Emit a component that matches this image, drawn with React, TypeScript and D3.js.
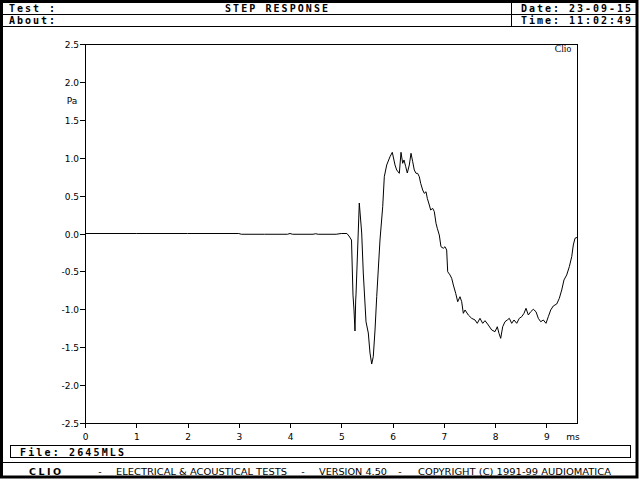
import React from "react";
import * as d3 from "d3";

const timeMs: number[] = [
  0, 1, 2, 3, 3.05, 3.5, 3.95, 4.0, 4.05, 4.45, 4.5, 4.55, 4.9, 5.0, 5.11, 5.151, 5.2, 5.229, 5.249, 5.268,
  5.282, 5.288, 5.352, 5.399, 5.43, 5.483, 5.528, 5.561, 5.594, 5.625, 5.659, 5.692, 5.756, 5.809, 5.84,
  5.887, 5.951, 5.996, 6.049, 6.082, 6.133, 6.166, 6.199, 6.224, 6.258, 6.289, 6.328, 6.361, 6.394, 6.425,
  6.459, 6.49, 6.523, 6.55, 6.589, 6.62, 6.654, 6.679, 6.718, 6.745, 6.784, 6.816, 6.849, 6.874, 6.913,
  6.946, 6.991, 7.024, 7.057, 7.077, 7.122, 7.155, 7.187, 7.233, 7.272, 7.317, 7.35, 7.382, 7.415, 7.479,
  7.545, 7.61, 7.654, 7.707, 7.76, 7.805, 7.869, 7.936, 8.0, 8.045, 8.078, 8.111, 8.15, 8.195, 8.24, 8.279,
  8.326, 8.371, 8.424, 8.474, 8.521, 8.566, 8.605, 8.65, 8.697, 8.747, 8.8, 8.845, 8.892, 8.943, 8.995,
  9.04, 9.087, 9.138, 9.204, 9.255, 9.302, 9.346, 9.399, 9.45, 9.497, 9.528, 9.561, 9.606,
];

const pressurePa: number[] = [
  0, 0, 0, 0, -0.01, -0.01, -0.01, 0.0, -0.01, -0.01, -0.003, -0.01, -0.01, 0.0, 0.0, -0.033, -0.086, -0.812,
  -1.01, -1.286, -0.877, -0.81, 0.402, 0.007, -0.521, -1.164, -1.313, -1.577, -1.722, -1.625, -1.273,
  -0.834, -0.086, 0.354, 0.749, 0.904, 1.013, 1.071, 0.904, 0.838, 0.794, 1.071, 0.926, 0.97, 0.881,
  0.798, 0.904, 1.058, 0.947, 0.838, 0.794, 0.794, 0.749, 0.662, 0.574, 0.53, 0.551, 0.464, 0.376, 0.31,
  0.332, 0.288, 0.135, 0.069, -0.02, -0.174, -0.195, -0.174, -0.218, -0.504, -0.547, -0.591, -0.679,
  -0.789, -0.9, -0.834, -0.9, -1.053, -1.009, -1.075, -1.119, -1.141, -1.185, -1.119, -1.185, -1.15,
  -1.207, -1.273, -1.295, -1.23, -1.317, -1.383, -1.23, -1.164, -1.141, -1.119, -1.185, -1.141, -1.185,
  -1.119, -1.098, -1.053, -0.987, -1.075, -1.032, -1.0, -1.032, -1.119, -1.164, -1.141, -1.185, -1.098,
  -1.009, -0.956, -0.93, -0.855, -0.745, -0.613, -0.547, -0.438, -0.306, -0.152, -0.063, -0.05,
];

const xTicks: number[] = [0, 1, 2, 3, 4, 5, 6, 7, 8, 9];
const yTicks: number[] = [-2.5, -2.0, -1.5, -1.0, -0.5, 0.0, 0.5, 1.0, 1.5, 2.0, 2.5];

const title = "STEP RESPONSE";
const testLabel = "Test :";
const aboutLabel = "About:";
const dateLabel = "Date: 23-09-15";
const timeLabel = "Time: 11:02:49";
const fileLabel = "File: 2645MLS";
const yUnit = "Pa";
const xUnit = "ms";
const brand = "Clio";

const mono = "'DejaVu Sans Mono', 'Liberation Mono', monospace";
const sans = "'DejaVu Sans', sans-serif";

export default function App() {
  const W = 640;
  const H = 480;
  const x = d3.scaleLinear().domain([0, 9.6]).range([85, 577]);
  const y = d3.scaleLinear().domain([-2.5, 2.5]).range([423, 44]);
  const pts = timeMs.map((t, i) => [t, pressurePa[i]] as [number, number]);
  const line = d3
    .line<[number, number]>()
    .x((d) => x(d[0]))
    .y((d) => y(d[1]));

  const hdr = { fontFamily: mono, fontWeight: 700, fontSize: 10 } as const;
  const foot = { fontFamily: sans, fontSize: 9.5 } as const;

  return (
    <svg
      width={W}
      height={H}
      style={{ position: "fixed", left: 0, top: 0, display: "block", background: "#fff" }}
    >
      <rect x={0} y={0} width={W} height={H} fill="#fff" />
      <rect x={1.5} y={1.5} width={635.5} height={475.5} fill="none" stroke="#000" strokeWidth={3} />
      <g stroke="#000" strokeWidth={1} shapeRendering="crispEdges">
        <line x1={3} x2={637} y1={14.5} y2={14.5} />
        <line x1={3} x2={637} y1={26.5} y2={26.5} />
        <line x1={511.5} x2={511.5} y1={3} y2={27} />
        <line x1={3} x2={637} y1={462.5} y2={462.5} />
        <rect x={10.5} y={445.5} width={620} height={12} fill="none" />
      </g>
      <g fill="#000" style={hdr}>
        <text x={9} y={12} textLength={46} lengthAdjust="spacing">{testLabel}</text>
        <text x={9} y={24} textLength={46} lengthAdjust="spacing">{aboutLabel}</text>
        <text x={225} y={12} textLength={103} lengthAdjust="spacing">{title}</text>
        <text x={521} y={12} textLength={110} lengthAdjust="spacing">{dateLabel}</text>
        <text x={521} y={24} textLength={110} lengthAdjust="spacing">{timeLabel}</text>
        <text x={20} y={455.5} textLength={104} lengthAdjust="spacing">{fileLabel}</text>
      </g>
      <g fill="#000" style={foot}>
        <text x={29} y={474.5} textLength={32} lengthAdjust="spacing" fontWeight={700}>C L I O</text>
        <text x={100} y={474.5} textAnchor="middle">-</text>
        <text x={116} y={474.5} textLength={171} lengthAdjust="spacingAndGlyphs">ELECTRICAL &amp; ACOUSTICAL TESTS</text>
        <text x={303} y={474.5} textAnchor="middle">-</text>
        <text x={319} y={474.5} textLength={68} lengthAdjust="spacingAndGlyphs">VERSION 4.50</text>
        <text x={400} y={474.5} textAnchor="middle">-</text>
        <text x={418} y={474.5} textLength={193} lengthAdjust="spacingAndGlyphs">COPYRIGHT (C) 1991-99 AUDIOMATICA</text>
      </g>
      <g stroke="#000" strokeWidth={1} shapeRendering="crispEdges" fill="none">
        <rect x={85.5} y={44.5} width={x(9.6) - x(0)} height={y(-2.5) - y(2.5)} />
        {yTicks.map((v) => (
          <line key={"yt" + v} x1={80} x2={85.5} y1={Math.round(y(v)) + 0.5} y2={Math.round(y(v)) + 0.5} />
        ))}
        {xTicks.map((v) => (
          <line key={"xt" + v} x1={Math.round(x(v)) + 0.5} x2={Math.round(x(v)) + 0.5} y1={423} y2={428} />
        ))}
      </g>
      <g fill="#000" fontFamily={sans} fontSize={9}>
        {yTicks.map((v) => (
          <text key={"yl" + v} x={79} y={Math.round(y(v)) + 0.5} dy="0.36em" textAnchor="end">
            {v.toFixed(1)}
          </text>
        ))}
        {xTicks.map((v) => (
          <text key={"xl" + v} x={x(v) + 0.5} y={437} dy="0.36em" textAnchor="middle">
            {String(v)}
          </text>
        ))}
        <text x={72} y={101} dy="0.36em" textAnchor="middle">{yUnit}</text>
        <text x={573} y={437} dy="0.36em" textAnchor="middle">{xUnit}</text>
      </g>
      <text x={563} y={49} dy="0.36em" textAnchor="middle" fontFamily="'Liberation Serif', serif" fontSize={9.5}>
        {brand}
      </text>
      <path d={line(pts) || ""} fill="none" stroke="#000" strokeWidth={1} strokeLinejoin="miter" />
    </svg>
  );
}
